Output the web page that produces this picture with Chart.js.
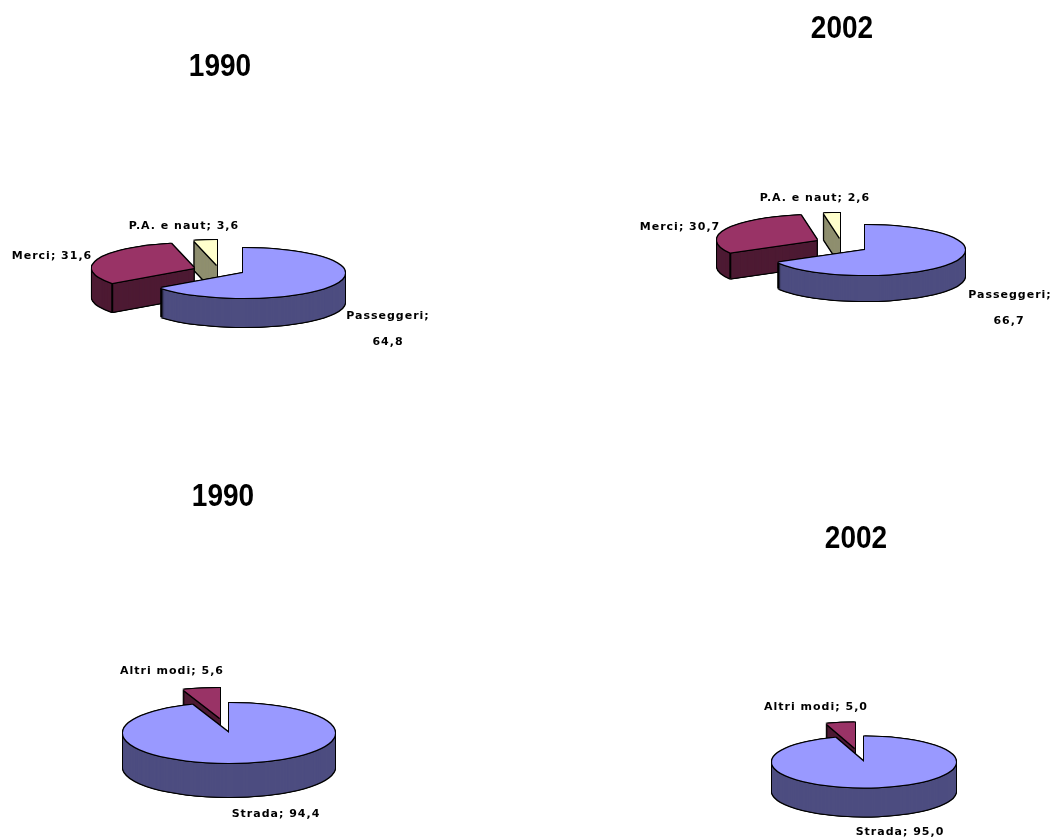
<!DOCTYPE html>
<html>
<head>
<meta charset="utf-8">
<title>Traffico 1990 - 2002</title>
<script src="https://cdn.jsdelivr.net/npm/chart.js@4"></script>
<style>
    html, body { margin: 0; background: #fff; }
    #page { position: relative; width: 1060px; height: 840px; overflow: hidden; }
    #page canvas { position: absolute; left: 0; top: 0; }
</style>
</head>
<body>
<div id="page"></div>
<script>
const trafficCategories = ['Passeggeri', 'Merci', 'P.A. e naut'];
const traffic1990 = [64.8, 31.6, 3.6];
const traffic2002 = [66.7, 30.7, 2.6];

const modeCategories = ['Strada', 'Altri modi'];
const modes1990 = [94.4, 5.6];
const modes2002 = [95.0, 5.0];

const trafficColors = ['#9999ff', '#993366', '#ffffcc'];
const trafficSides = ['#4d4d80', '#4d1a33', '#8f8f6f'];
const modeColors = ['#9999ff', '#993366'];
const modeSides = ['#4d4d80', '#4d1a33'];

const WIDTH = 1060, HEIGHT = 840;
const LABEL_FONT = 'bold 11px "DejaVu Sans"';
const TITLE_FONT = 'bold 32px "Liberation Sans"';

// pie geometry per panel; shift moves a slice away from the centre
const panels = [
    {
        title: '1990', titleAt: [220, 67], categories: trafficCategories, values: traffic1990,
        colors: trafficColors, sides: trafficSides,
        cx: 243, cy: 273, radius: 102, squash: 0.245, depth: 29,
        shift: [[0, 0], [-49, -5], [-26, -8]],
        labelAt: [[388, 316, 388, 342], [52, 256], [184, 226]]
    },
    {
        title: '2002', titleAt: [842, 29], categories: trafficCategories, values: traffic2002,
        colors: trafficColors, sides: trafficSides,
        cx: 865, cy: 250, radius: 100, squash: 0.25, depth: 26,
        shift: [[0, 0], [-48, -10], [-25, -12]],
        labelAt: [[1010, 295, 1009, 321], [680, 227], [815, 198]]
    },
    {
        title: '1990', titleAt: [223, 497], categories: modeCategories, values: modes1990,
        colors: modeColors, sides: modeSides,
        cx: 229, cy: 733, radius: 106, squash: 0.283, depth: 34,
        shift: [[0, 0], [-9, -15]],
        labelAt: [[276, 814], [172, 671]]
    },
    {
        title: '2002', titleAt: [856, 539], categories: modeCategories, values: modes2002,
        colors: modeColors, sides: modeSides,
        cx: 864, cy: 762, radius: 92, squash: 0.277, depth: 29,
        shift: [[0, 0], [-9, -14]],
        labelAt: [[900, 832], [816, 707]]
    }
];

function formatValue(v) {
    return v.toFixed(1).replace('.', ',');
}

// paints one arc element flattened around the pie centre, in a given colour
function paintArc(ctx, arc, squash, color, dx, dy) {
    const saved = arc.options;
    arc.options = Object.assign({}, saved, { backgroundColor: color, borderWidth: 0 });
    ctx.save();
    ctx.translate(dx, arc.y + dy);
    ctx.scale(1, squash);
    ctx.translate(0, -arc.y);
    arc.draw(ctx);
    ctx.restore();
    arc.options = saved;
}

function paintOutline(ctx, arc, squash, dx, dy) {
    [[-1, -1], [1, -1], [-1, 1], [1, 1], [-1, 0], [1, 0], [0, -1], [0, 1]].forEach(o => {
        paintArc(ctx, arc, squash, '#000', dx + o[0], dy + o[1]);
    });
}

const pie3d = {
    id: 'pie3d',
    beforeDatasetDraw(chart) {
        const panel = chart.options.plugins.pie3d;
        const ctx = chart.ctx;
        const arcs = chart.getDatasetMeta(0).data;

        // back slices first so the big slice ends up in front
        for (let i = arcs.length - 1; i >= 0; i--) {
            const arc = arcs[i];
            const [dx, dy] = panel.shift[i];

            for (let k = panel.depth; k >= 1; k--) paintOutline(ctx, arc, panel.squash, dx, dy + k);
            for (let k = panel.depth; k >= 1; k--) paintArc(ctx, arc, panel.squash, panel.sides[i], dx, dy + k);

            // corner line on the front of the wall
            [arc.startAngle, arc.endAngle].forEach(a => {
                if (Math.sin(a) <= 0.05 || Math.abs(a - Math.PI * 1.5) < 0.01) return;
                const x = arc.x + dx + arc.outerRadius * Math.cos(a);
                const y = arc.y + dy + arc.outerRadius * Math.sin(a) * panel.squash;
                ctx.save();
                ctx.strokeStyle = '#000';
                ctx.lineWidth = 2;
                ctx.beginPath();
                ctx.moveTo(x, y);
                ctx.lineTo(x, y + panel.depth);
                ctx.stroke();
                ctx.restore();
            });

            paintOutline(ctx, arc, panel.squash, dx, dy);
            paintArc(ctx, arc, panel.squash, panel.colors[i], dx, dy);
        }
        return false;
    },
    afterDraw(chart) {
        const panel = chart.options.plugins.pie3d;
        const ctx = chart.ctx;
        ctx.save();
        ctx.fillStyle = '#000';
        ctx.textAlign = 'center';
        ctx.textBaseline = 'middle';

        // title digits are tall and narrow
        ctx.save();
        ctx.font = TITLE_FONT;
        ctx.translate(panel.titleAt[0], panel.titleAt[1]);
        ctx.scale(0.875, 1);
        ctx.fillText(panel.title, 0, 0);
        ctx.restore();

        ctx.font = LABEL_FONT;
        ctx.letterSpacing = '1px';
        panel.categories.forEach((cat, i) => {
            const at = panel.labelAt[i];
            const value = formatValue(panel.values[i]);
            if (at.length > 2) {
                // wrapped over two lines
                ctx.fillText(cat + ';', at[0], at[1]);
                ctx.fillText(value, at[2], at[3]);
            } else {
                ctx.fillText(cat + '; ' + value, at[0], at[1]);
            }
        });
        ctx.restore();
    }
};

panels.forEach(panel => {
    const canvas = document.createElement('canvas');
    canvas.width = WIDTH;
    canvas.height = HEIGHT;
    document.getElementById('page').appendChild(canvas);

    new Chart(canvas, {
        type: 'pie',
        data: {
            labels: panel.categories,
            datasets: [{
                data: panel.values,
                backgroundColor: panel.colors,
                borderWidth: 0,
                radius: panel.radius
            }]
        },
        options: {
            responsive: false,
            animation: false,
            // padding puts the centre of the chart area on the pie centre
            layout: {
                padding: {
                    left: Math.max(0, 2 * panel.cx - WIDTH),
                    right: Math.max(0, WIDTH - 2 * panel.cx),
                    top: Math.max(0, 2 * panel.cy - HEIGHT),
                    bottom: Math.max(0, HEIGHT - 2 * panel.cy)
                }
            },
            plugins: {
                legend: { display: false },
                tooltip: { enabled: false },
                pie3d: panel
            }
        },
        plugins: [pie3d]
    });
});
</script>
</body>
</html>
